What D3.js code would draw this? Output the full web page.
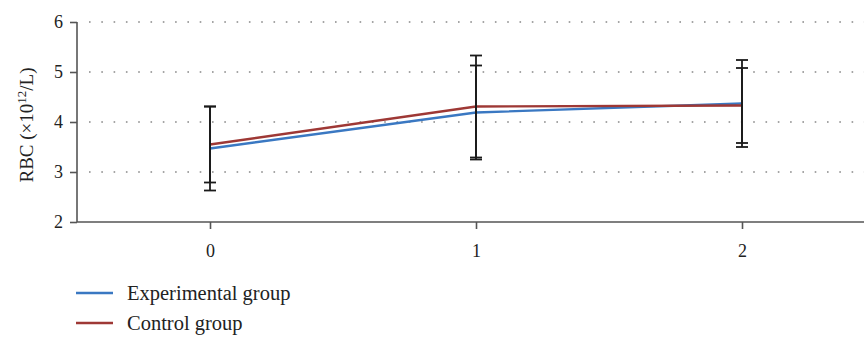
<!DOCTYPE html>
<html>
<head>
<meta charset="utf-8">
<script src="https://cdn.jsdelivr.net/npm/d3@7"></script>
<style>
  html, body { margin: 0; padding: 0; background: #fff; }
  svg text { font-family: "Liberation Serif", "DejaVu Serif", serif; fill: #222; }
</style>
</head>
<body>
<svg id="chart" width="864" height="338"></svg>
<script>
// Time points and RBC means / standard deviations per group
const timePoints = [0, 1, 2];
const experimentalMean = [3.47, 4.19, 4.37];
const experimentalSD = [0.84, 0.94, 0.87];
const controlMean = [3.55, 4.31, 4.33];
const controlSD = [0.76, 1.02, 0.75];
const yTicks = [2, 3, 4, 5, 6];
const seriesNames = ["Experimental group", "Control group"];
const seriesColors = ["#3a78c2", "#9e3835"];

const svg = d3.select("#chart");
const margin = { left: 77, top: 22, bottom: 222 };

const x = d3.scaleLinear().domain([-0.5, 2.5]).range([margin.left, margin.left + 798]);
const y = d3.scaleLinear().domain([2, 6]).range([margin.bottom, margin.top]);

// Dotted horizontal grid
svg.append("g")
  .selectAll("line")
  .data(yTicks.filter(t => t > 2))
  .join("line")
  .attr("x1", margin.left + 12).attr("x2", 864)
  .attr("y1", d => y(d)).attr("y2", d => y(d))
  .attr("stroke", "#888")
  .attr("stroke-width", 1.6)
  .attr("stroke-dasharray", "1.6,10.7");

// Axes
const yAxis = svg.append("g")
  .attr("transform", `translate(${margin.left},0)`)
  .call(d3.axisLeft(y).tickValues(yTicks).tickSize(7).tickFormat(d3.format("d")));
const xAxis = svg.append("g")
  .attr("transform", `translate(0,${margin.bottom})`)
  .call(d3.axisBottom(x).tickValues(timePoints).tickSize(7).tickFormat(d3.format("d")));

[yAxis, xAxis].forEach(g => {
  g.select(".domain").attr("stroke", "#555").attr("stroke-width", 1.6);
  g.selectAll(".tick line").attr("stroke", "#555").attr("stroke-width", 1.6);
  g.selectAll(".tick text").style("font-size", "18px").attr("fill", "#222");
});
xAxis.select(".domain").attr("d", `M${margin.left},0H864`);
yAxis.select(".domain").attr("d", `M0,${margin.top}V${margin.bottom}`);
yAxis.selectAll(".tick text").attr("x", -14);
xAxis.selectAll(".tick text").attr("dy", null).attr("y", 35);

// Y axis title
svg.append("text")
  .attr("transform", `translate(33,${y(4) + 3}) rotate(-90)`)
  .attr("text-anchor", "middle")
  .style("font-size", "19px")
  .html('RBC (×10<tspan dy="-7" style="font-size:13px">12</tspan><tspan dy="7">/L)</tspan>');

// Series lines
const series = [
  { name: seriesNames[0], mean: experimentalMean, sd: experimentalSD, color: seriesColors[0] },
  { name: seriesNames[1], mean: controlMean, sd: controlSD, color: seriesColors[1] }
];
const line = d3.line().x((d, i) => x(timePoints[i])).y(d => y(d));
svg.append("g")
  .selectAll("path")
  .data(series)
  .join("path")
  .attr("d", s => line(s.mean))
  .attr("fill", "none")
  .attr("stroke", s => s.color)
  .attr("stroke-width", 2.4);

// Error bars (mean ± SD)
const capHalf = 6;
const eb = svg.append("g").attr("stroke", "#1a1a1a").attr("stroke-width", 1.8);
series.forEach(s => {
  timePoints.forEach((t, i) => {
    const cx = x(t), lo = y(s.mean[i] - s.sd[i]), hi = y(s.mean[i] + s.sd[i]);
    eb.append("line").attr("x1", cx).attr("x2", cx).attr("y1", lo).attr("y2", hi);
    eb.append("line").attr("x1", cx - capHalf).attr("x2", cx + capHalf).attr("y1", lo).attr("y2", lo);
    eb.append("line").attr("x1", cx - capHalf).attr("x2", cx + capHalf).attr("y1", hi).attr("y2", hi);
  });
});

// Legend
const legend = svg.append("g");
series.forEach((s, i) => {
  const ly = 293 + i * 30;
  legend.append("line")
    .attr("x1", 76).attr("x2", 113).attr("y1", ly).attr("y2", ly)
    .attr("stroke", s.color).attr("stroke-width", 2.4);
  legend.append("text")
    .attr("x", 127).attr("y", ly + 7)
    .style("font-size", "20.5px")
    .text(s.name);
});
</script>
</body>
</html>
